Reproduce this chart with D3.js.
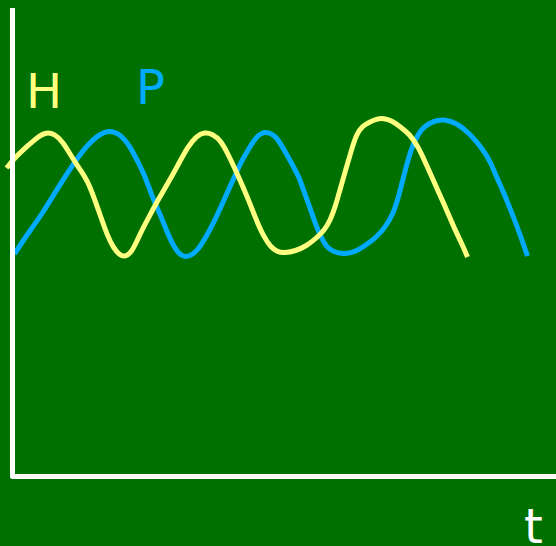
<!DOCTYPE html>
<html>
<head>
<meta charset="utf-8">
<script src="https://cdn.jsdelivr.net/npm/d3@7"></script>
<style>
  html, body { margin: 0; padding: 0; background: #007000; }
  svg { display: block; }
</style>
</head>
<body>
<svg id="chart" width="556" height="546"></svg>
<script>
// Prey (H) and predator (P) populations over time t
const tH = [-6, 4, 15, 25, 34, 42, 50, 61, 68, 75, 81, 88, 95, 101, 107, 113, 119, 124, 130, 138,
  145, 155, 165, 175, 184, 192, 200, 208, 216, 223, 231, 238, 245, 251, 258, 265, 272, 283, 294, 304,
  312, 318, 323, 328, 334, 339, 344, 350, 357, 364, 371, 380, 388, 397, 406, 414, 422, 431, 438, 444,
  450, 455];
const hValues = [309, 321, 331, 340, 345, 343, 336, 317, 307, 296, 281, 261, 241, 229, 222, 220, 225, 235, 248, 263,
  276, 293, 311, 330, 341, 345, 343, 337, 322, 307, 289, 272, 254, 241, 230, 225, 224, 226, 231, 239,
  247, 257, 271, 289, 310, 327, 343, 351, 355, 358, 359, 356, 350, 343, 330, 312, 294, 274, 258, 244,
  232, 220];

const tP = [2, 11, 21, 30, 38, 46, 55, 63, 71, 80, 88, 95, 102, 108, 115, 121, 126, 131, 136, 141,
  148, 155, 161, 166, 171, 178, 184, 188, 194, 201, 208, 215, 221, 228, 235, 241, 246, 251, 258, 264,
  273, 281, 286, 291, 298, 304, 309, 314, 321, 331, 338, 346, 355, 364, 373, 381, 386, 391, 396, 401,
  406, 411, 421, 431, 444, 457, 471, 478, 484, 491, 497, 506, 515];
const pValues = [223, 237, 251, 264, 277, 290, 304, 316, 327, 337, 343, 346, 345, 342, 334, 324, 314, 304, 291, 277,
  262, 244, 231, 224, 220, 221, 226, 231, 241, 254, 269, 285, 298, 314, 326, 336, 342, 345, 344, 340,
  325, 310, 301, 287, 268, 250, 239, 230, 225, 223, 224, 227, 233, 240, 250, 264, 280, 300, 319, 334,
  343, 350, 356, 358, 354, 344, 327, 315, 300, 285, 270, 247, 221];

const seriesNames = ["H", "P"];
const seriesColors = ["#ffff80", "#00aaff"];
const axisTitle = "t";

const W = 556, H = 546;
const svg = d3.select("#chart");

svg.append("rect").attr("width", W).attr("height", H).attr("fill", "#007000");

const x = d3.scaleLinear().domain([0, 544]).range([12.5, 556.5]);
const y = d3.scaleLinear().domain([0, 469]).range([477, 8]);

const line = d3.line()
  .x(d => x(d[0]))
  .y(d => y(d[1]))
  .curve(d3.curveBasis);

const hData = d3.zip(tH, hValues);
const pData = d3.zip(tP, pValues);

// predator curve underneath, prey curve on top
svg.append("path")
  .datum(pData)
  .attr("d", line)
  .attr("fill", "none")
  .attr("stroke", seriesColors[1])
  .attr("stroke-width", 5);

svg.append("path")
  .datum(hData)
  .attr("d", line)
  .attr("fill", "none")
  .attr("stroke", seriesColors[0])
  .attr("stroke-width", 5);

// axes: plain white lines, no ticks
const [x0, x1] = x.range();
const [yBottom, yTop] = y.range();
svg.append("path")
  .attr("d", `M${x0},${yTop}L${x0},${yBottom - 0.5}L${x1},${yBottom - 0.5}`)
  .attr("fill", "none")
  .attr("stroke", "#ffffff")
  .attr("stroke-width", 5)
  .attr("stroke-linejoin", "round");

// series labels
const labelPos = [[26, 108], [136, 104]];
svg.selectAll("text.series")
  .data(seriesNames)
  .join("text")
  .attr("class", "series")
  .attr("x", (d, i) => labelPos[i][0])
  .attr("y", (d, i) => labelPos[i][1])
  .attr("fill", (d, i) => seriesColors[i])
  .attr("font-family", "DejaVu Sans, sans-serif")
  .attr("font-size", 48)
  .text(d => d);

svg.append("text")
  .attr("x", 524)
  .attr("y", 543)
  .attr("fill", "#ffffff")
  .attr("font-family", "DejaVu Sans, sans-serif")
  .attr("font-size", 48)
  .text(axisTitle);
</script>
</body>
</html>
